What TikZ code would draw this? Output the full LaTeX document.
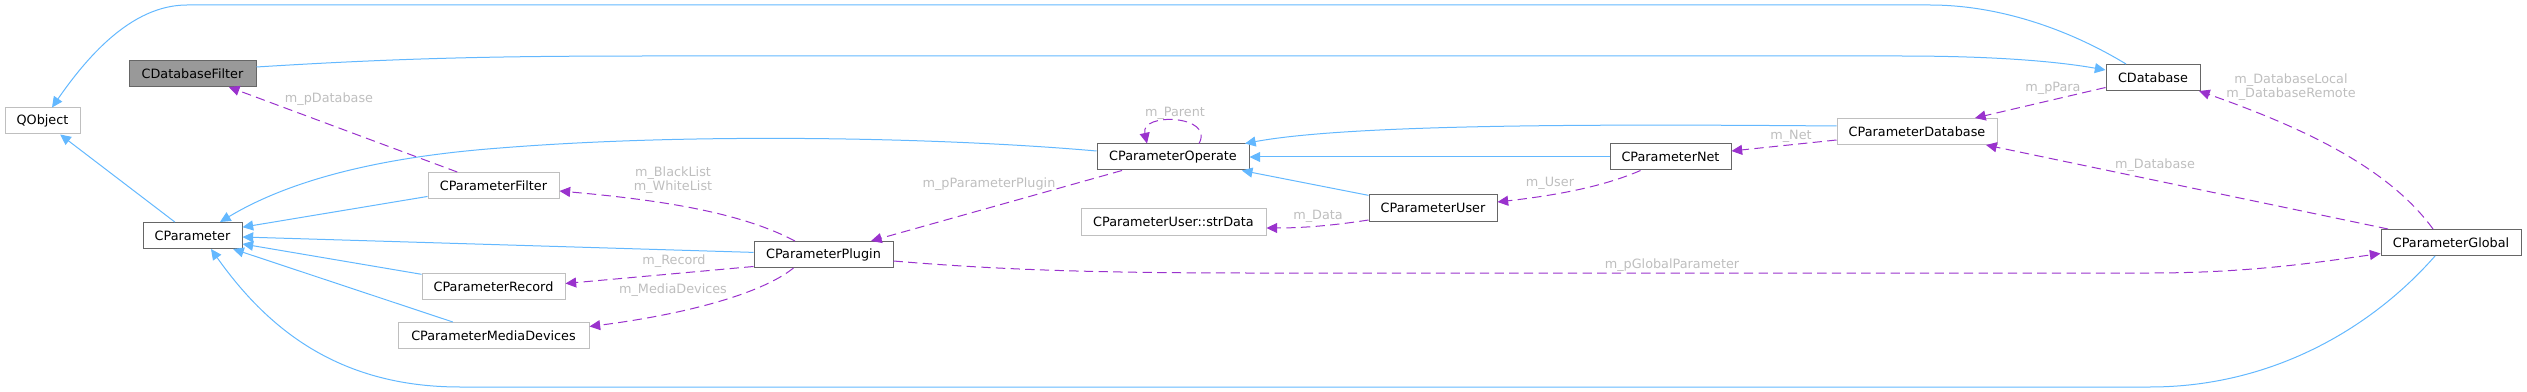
\documentclass[tikz,border=0pt]{standalone}
\usepackage{fontspec}
\setmainfont{DejaVu Sans}
\usetikzlibrary{arrows.meta}

\definecolor{inhblue}{HTML}{63B8FF}
\definecolor{usepurple}{HTML}{9A32CD}
\definecolor{lblgray}{HTML}{BEBEBE}
\definecolor{docgray}{HTML}{666666}
\definecolor{undocgray}{HTML}{BFBFBF}
\definecolor{curfill}{HTML}{999999}

\begin{document}
\begin{tikzpicture}[x=0.75pt,y=-0.75pt,>={Triangle[length=8pt,width=7.5pt]},
  every node/.style={font=\fontsize{9.6}{10.5}\selectfont,inner sep=0pt},
  cls/.style={draw=docgray,line width=0.75pt,minimum height=19.5pt,fill=white},
  ext/.style={cls,draw=undocgray},
  cur/.style={cls,fill=curfill},
  inh/.style={->,inhblue,line width=0.75pt},
  use/.style={->,usepurple,line width=0.75pt,dash pattern=on 7pt off 4pt},
  lbl/.style={text=lblgray,align=center}]
  \useasboundingbox (0,0) rectangle (2527,392);

  % Classes
  \node[ext,minimum width=56.25pt] (qo) at (42.5,121) {QObject};
  \node[cur,minimum width=95.25pt] (dbf) at (192.5,73.5) {CDatabaseFilter};
  \node[cls,minimum width=74.25pt] (cp) at (192.5,235.5) {CParameter};
  \node[ext,minimum width=98.25pt] (pf) at (493.5,185.5) {CParameterFilter};
  \node[ext,minimum width=107.25pt] (prec) at (493.5,286.5) {CParameterRecord};
  \node[ext,minimum width=143.25pt] (pmd) at (493.5,335.5) {CParameterMediaDevices};
  \node[cls,minimum width=104.25pt] (pl) at (823.5,254.5) {CParameterPlugin};
  \node[cls,minimum width=114pt] (po) at (1173,157) {CParameterOperate};
  \node[ext,minimum width=138.75pt] (psd) at (1173.5,222) {CParameterUser::strData};
  \node[cls,minimum width=96pt] (pu) at (1433,208) {CParameterUser};
  \node[cls,minimum width=90.75pt] (pn) at (1670.5,157) {CParameterNet};
  \node[ext,minimum width=120pt] (pdb) at (1917,131.5) {CParameterDatabase};
  \node[cls,minimum width=70.5pt] (db) at (2153,77.5) {CDatabase};
  \node[cls,minimum width=105pt] (pg) at (2451,242.5) {CParameterGlobal};

  % Inheritance
  \foreach \from/\to in {cp/qo,pf/cp,pl/cp,prec/cp,pmd/cp,pn/po,pu/po}
    \draw[inh] (\from) -- (\to);
  \draw[inh] ([shift={(-27,0)}]db.north) .. controls (2070,30) and (2000,5) .. (1930,5)
    -- (187,5) .. controls (130,5) and (85,60) .. ([shift={(9.5,0)}]qo.north);
  \draw[inh] ([shift={(0,-6.5)}]dbf.east) .. controls (400,58) and (500,56) .. (650,56)
    -- (1900,56) .. controls (2000,56) and (2060,62) .. ([shift={(0,-7.5)}]db.west);
  \draw[inh] ([shift={(0,-6)}]po.west) .. controls (950,138) and (700,132) .. (500,148)
    .. controls (380,157) and (290,180) .. ([shift={(27.5,0)}]cp.north);
  \draw[inh] ([shift={(-16,0)}]pg.south) .. controls (2370,330) and (2270,387) .. (2150,387)
    -- (460,387) .. controls (335,387) and (265,325) .. ([shift={(18.5,0)}]cp.south);
  \draw[inh] ([shift={(0,-5.5)}]pdb.west) .. controls (1600,124) and (1350,124) .. ([shift={(72,0)}]po.north);

  % Members
  \draw[use] (pf) -- (dbf);
  \draw[use] ([shift={(-28.5,0)}]pl.north) .. controls (740,212) and (660,200) .. ([shift={(0,5.5)}]pf.east);
  \draw[use] ([shift={(0,12)}]pl.west) -- ([shift={(0,-3)}]prec.east);
  \draw[use] ([shift={(-30,0)}]pl.south) .. controls (760,295) and (680,315) .. ([shift={(0,-9)}]pmd.east);
  \draw[use] ([shift={(-51,0)}]po.south) -- ([shift={(47.5,0)}]pl.north);
  \draw[use] ([shift={(26,0)}]po.north) .. controls (1215,115) and (1140,112) .. ([shift={(-26,0)}]po.north);
  \draw[use] ([shift={(0,6.5)}]pl.east) .. controls (1000,270) and (1100,273) .. (1250,273)
    -- (2150,273) .. controls (2250,273) and (2320,262) .. ([shift={(0,11)}]pg.west);
  \draw[use] ([shift={(0,12)}]pu.west) .. controls (1330,226) and (1300,228) .. ([shift={(0,6)}]psd.east);
  \draw[use] ([shift={(-30,0)}]pn.south) .. controls (1600,188) and (1550,196) .. ([shift={(0,-6)}]pu.east);
  \draw[use] ([shift={(0,8.5)}]pdb.west) -- ([shift={(0,-6)}]pn.east);
  \draw[use] ([shift={(0,10)}]db.west) -- ([shift={(58,0)}]pdb.north);
  \draw[use] ([shift={(-18,0)}]pg.north) .. controls (2390,170) and (2310,130) .. ([shift={(46,0)}]db.south);
  \draw[use] ([shift={(-63,0)}]pg.north) -- ([shift={(69,0)}]pdb.south);

  % Labels
  \node[lbl] (lpdb) at (329,99) {m\_pDatabase};
  \node[lbl] (llist) at (673,180) {m\_BlackList\\m\_WhiteList};
  \node[lbl] (lrec) at (674,261) {m\_Record};
  \node[lbl] (lmd) at (673,290) {m\_MediaDevices};
  \node[lbl] (lplug) at (989,184) {m\_pParameterPlugin};
  \node[lbl] (lpar) at (1175,113) {m\_Parent};
  \node[lbl] (lglob) at (1672,265) {m\_pGlobalParameter};
  \node[lbl] (ldata) at (1318,216) {m\_Data};
  \node[lbl] (luser) at (1550,183) {m\_User};
  \node[lbl] (lnet) at (1791,136) {m\_Net};
  \node[lbl] (lpara) at (2053,88) {m\_pPara};
  \node[lbl] (ldbs) at (2291,87) {m\_DatabaseLocal\\m\_DatabaseRemote};
  \node[lbl] (ldb) at (2155,165) {m\_Database};
\end{tikzpicture}
\end{document}
